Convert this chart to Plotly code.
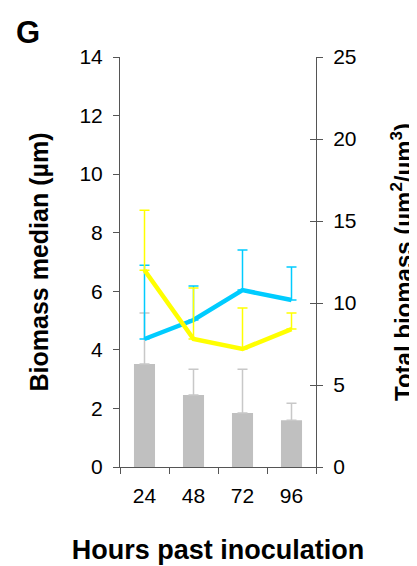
import plotly.graph_objects as go

hours = ["24", "48", "72", "96"]
bar_vals = [3.52, 2.46, 1.84, 1.60]
bar_err = [1.74, 0.88, 1.50, 0.58]
blue_vals = [4.37, 5.02, 6.04, 5.70]
blue_err = [2.52, 1.16, 1.37, 1.13]
yellow_vals = [6.72, 4.37, 4.03, 4.71]
yellow_err = [2.05, 1.74, 1.40, 0.55]

FONT = "Liberation Sans, Arial, sans-serif"
AX = "#555555"

fig = go.Figure()
fig.add_trace(go.Bar(
    x=hours, y=bar_vals, width=0.43, marker=dict(color="#C0C0C0", line=dict(width=0)),
    error_y=dict(type="data", array=bar_err, arrayminus=[0]*4, symmetric=False,
                 color="#C8C8C8", thickness=1.5, width=5),
    showlegend=False))
fig.add_trace(go.Scatter(
    x=hours, y=blue_vals, mode="lines", line=dict(color="#00CCFF", width=4.5),
    error_y=dict(type="data", array=blue_err, arrayminus=[0]*4, symmetric=False,
                 color="#00CCFF", thickness=1.5, width=5),
    showlegend=False))
fig.add_trace(go.Scatter(
    x=hours, y=yellow_vals, mode="lines", line=dict(color="#FFFF00", width=4.5),
    error_y=dict(type="data", array=yellow_err, arrayminus=[0]*4, symmetric=False,
                 color="#FFFF00", thickness=1.5, width=5),
    showlegend=False))
# invisible traces to activate right axes
fig.add_trace(go.Scatter(x=hours, y=[None]*4, yaxis="y2", showlegend=False, hoverinfo="skip"))
fig.add_trace(go.Scatter(x=hours, y=[None]*4, yaxis="y3", showlegend=False, hoverinfo="skip"))

fig.update_layout(
    width=409, height=558,
    margin=dict(l=112, r=101, t=49, b=99),
    paper_bgcolor="white", plot_bgcolor="white",
    font=dict(family=FONT, size=21, color="black"),
    xaxis=dict(type="category", categoryorder="array", categoryarray=hours,
               tickson="boundaries", ticks="outside", ticklen=6, tickcolor=AX,
               showline=True, linecolor=AX, linewidth=1, showgrid=False, zeroline=False,
               tickfont=dict(size=21), ticklabelstandoff=10, automargin=False,
               title=dict(text="<b>Hours past inoculation</b>", font=dict(size=27), standoff=33)),
    yaxis=dict(range=[0, 14], dtick=2, ticks="outside", ticklen=6, tickcolor=AX,
               showline=True, linecolor=AX, linewidth=1, showgrid=False, zeroline=False,
               tickfont=dict(size=21), ticklabelstandoff=6, automargin=False,
               title=dict(text="<b>Biomass median (µm)</b>", font=dict(size=25), standoff=23)),
    yaxis2=dict(range=[0, 25], dtick=5, overlaying="y", side="right",
                ticks="outside", ticklen=6, tickcolor=AX,
                showline=True, linecolor=AX, linewidth=1, showgrid=False, zeroline=False,
                tickfont=dict(size=21), ticklabelstandoff=6, automargin=False,
                title=dict(text="<b>Total biomass (µm<sup>2</sup>/µm<sup>3</sup>)</b>",
                           font=dict(size=24), standoff=42)),
    yaxis3=dict(range=[0, 25], dtick=5, overlaying="y", side="right",
                ticks="inside", ticklen=6, tickcolor=AX, showticklabels=False,
                showline=False, showgrid=False, zeroline=False, automargin=False),
    annotations=[dict(text="<b>G</b>", xref="paper", yref="paper", x=-0.54, y=1.06,
                      xanchor="left", yanchor="middle",
                      showarrow=False, font=dict(size=31))],
)
fig.write_html("out.html")
